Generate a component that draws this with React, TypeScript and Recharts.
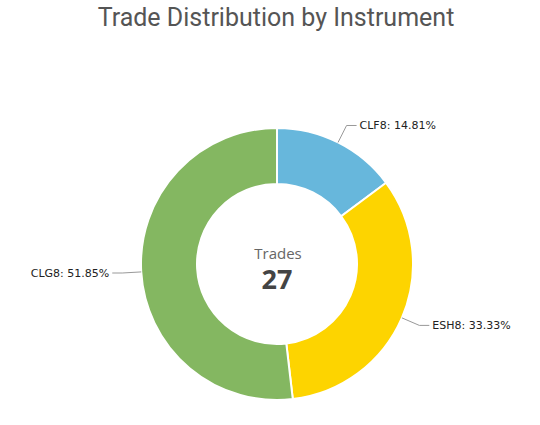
import { PieChart, Pie, Cell } from "recharts";

const instruments = ["CLF8", "ESH8", "CLG8"];
const trades = [4, 9, 14];
const colors = ["#67b7dc", "#fdd400", "#84b761"];

const total = trades.reduce((a, b) => a + b, 0);
const data = instruments.map((name, i) => ({ name, value: trades[i] }));

const RAD = Math.PI / 180;

function SliceLabel(props: any) {
  const { cx, cy, outerRadius, midAngle, name, percent } = props;
  const cos = Math.cos(-midAngle * RAD);
  const sin = Math.sin(-midAngle * RAD);
  const sx = cx + outerRadius * cos;
  const sy = cy + outerRadius * sin;
  const bx = cx + (outerRadius + 19) * cos;
  const by = cy + (outerRadius + 19) * sin;
  const right = cos >= 0;
  const ex = bx + (right ? 10 : -10);
  const tx = bx + (right ? 13 : -13);
  return (
    <g>
      <path d={`M${sx},${sy}L${bx},${by}L${ex},${by}`} stroke="#999" strokeWidth={1} fill="none" />
      <text
        x={tx}
        y={by}
        textAnchor={right ? "start" : "end"}
        dominantBaseline="central"
        fontFamily="DejaVu Sans, Verdana, sans-serif"
        fontSize={11}
        fill="#222"
      >
        {`${name}: ${(percent * 100).toFixed(2)}%`}
      </text>
    </g>
  );
}

export default function App() {
  return (
    <div style={{ position: "fixed", left: 0, top: 0, width: 540, height: 425, background: "#fff" }}>
      <div
        style={{
          position: "absolute",
          left: 0,
          top: 2,
          width: 552,
          textAlign: "center",
          fontFamily: "Roboto, sans-serif",
          fontSize: 25,
          lineHeight: "32px",
          color: "#555",
        }}
      >
        Trade Distribution by Instrument
      </div>
      <PieChart width={540} height={425}>
        <Pie
          data={data}
          dataKey="value"
          nameKey="name"
          cx={272}
          cy={259}
          innerRadius={80}
          outerRadius={136}
          startAngle={90}
          endAngle={-270}
          stroke="#fff"
          strokeWidth={2}
          label={SliceLabel}
          labelLine={false}
          isAnimationActive={false}
        >
          {data.map((d, i) => (
            <Cell key={d.name} fill={colors[i]} />
          ))}
        </Pie>
      </PieChart>
      <div
        style={{
          position: "absolute",
          left: 178,
          width: 200,
          top: 243,
          textAlign: "center",
          fontFamily: "Open Sans, sans-serif",
          color: "#666",
          fontSize: 15,
          lineHeight: "20px",
        }}
      >
        Trades
      </div>
      <div
        style={{
          position: "absolute",
          left: 177,
          width: 200,
          top: 263,
          textAlign: "center",
          fontFamily: "Open Sans, sans-serif",
          color: "#444",
          fontSize: 27,
          fontWeight: 700,
          lineHeight: "32px",
        }}
      >
        {total}
      </div>
    </div>
  );
}
